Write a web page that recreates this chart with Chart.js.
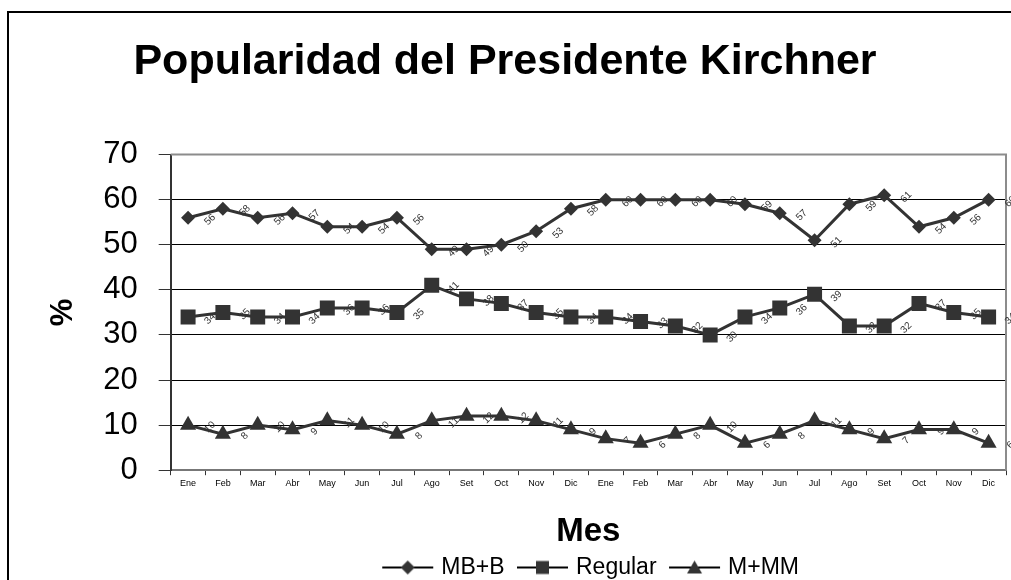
<!DOCTYPE html>
<html>
<head>
<meta charset="utf-8">
<script src="https://cdn.jsdelivr.net/npm/chart.js@4.4.1/dist/chart.umd.min.js"></script>
<style>
  html, body { margin: 0; padding: 0; background: #fff; overflow: hidden; }
  #wrap { width: 1011px; height: 580px; position: relative; }
</style>
</head>
<body>
<div id="wrap"><canvas id="popChart"></canvas></div>
<script>
const months = ['Ene', 'Feb', 'Mar', 'Abr', 'May', 'Jun', 'Jul', 'Ago', 'Set', 'Oct', 'Nov', 'Dic',
                'Ene', 'Feb', 'Mar', 'Abr', 'May', 'Jun', 'Jul', 'Ago', 'Set', 'Oct', 'Nov', 'Dic'];
const mbB     = [56, 58, 56, 57, 54, 54, 56, 49, 49, 50, 53, 58, 60, 60, 60, 60, 59, 57, 51, 59, 61, 54, 56, 60];
const regular = [34, 35, 34, 34, 36, 36, 35, 41, 38, 37, 35, 34, 34, 33, 32, 30, 34, 36, 39, 32, 32, 37, 35, 34];
const mMM     = [10, 8, 10, 9, 11, 10, 8, 11, 12, 12, 11, 9, 7, 6, 8, 10, 6, 8, 11, 9, 7, 9, 9, 6];
const seriesNames = ['MB+B', 'Regular', 'M+MM'];
const yMin = 0, yMax = 70, yStep = 10;

const FONT = '"Liberation Sans", Arial, sans-serif';
const DARK = '#333';

// legend icons: line with the marker in the middle
function legendIcon(shape) {
  const c = document.createElement('canvas');
  c.width = 63; c.height = 24;
  const g = c.getContext('2d');
  const x0 = 10, x1 = 61, cx = 35.5, cy = 12;
  g.strokeStyle = '#000';
  g.lineWidth = 2;
  g.beginPath(); g.moveTo(x0, cy); g.lineTo(x1, cy); g.stroke();
  g.fillStyle = DARK;
  g.beginPath();
  if (shape === 'diamond') {
    g.moveTo(cx - 7, cy); g.lineTo(cx, cy - 7); g.lineTo(cx + 7, cy); g.lineTo(cx, cy + 7);
  } else if (shape === 'square') {
    g.rect(cx - 6.5, cy - 6.5, 13, 13);
  } else {
    g.moveTo(cx, cy - 7); g.lineTo(cx + 7.5, cy + 6); g.lineTo(cx - 7.5, cy + 6);
  }
  g.closePath();
  g.fill();
  return c;
}
const legendIcons = [legendIcon('diamond'), legendIcon('square'), legendIcon('triangle')];

// outer frame + grey plot border
const frame = {
  id: 'frame',
  beforeDraw(chart) {
    const ctx = chart.ctx;
    ctx.save();
    ctx.fillStyle = '#fff';
    ctx.fillRect(0, 0, chart.width, chart.height);
    ctx.strokeStyle = '#000';
    ctx.lineWidth = 2;
    ctx.strokeRect(8, 12, 1200, 800);
    ctx.restore();
  },
  beforeDatasetsDraw(chart) {
    const {ctx, chartArea: a} = chart;
    ctx.save();
    ctx.strokeStyle = '#8c8c8c';
    ctx.lineWidth = 2;
    ctx.beginPath();
    ctx.moveTo(a.left, a.top);
    ctx.lineTo(a.right, a.top);
    ctx.lineTo(a.right, a.bottom);
    ctx.stroke();
    ctx.restore();
  }
};

// rotated value labels next to each point
const pointLabels = {
  id: 'pointLabels',
  afterDatasetsDraw(chart) {
    const ctx = chart.ctx;
    ctx.save();
    ctx.font = '10px ' + FONT;
    ctx.fillStyle = DARK;
    ctx.textAlign = 'center';
    ctx.textBaseline = 'middle';
    chart.data.datasets.forEach((ds, i) => {
      chart.getDatasetMeta(i).data.forEach((pt, j) => {
        ctx.save();
        ctx.translate(pt.x + 22, pt.y + 2);
        ctx.rotate(-Math.PI / 4);
        ctx.fillText(String(ds.data[j]), 0, 0);
        ctx.restore();
      });
    });
    ctx.restore();
  }
};

const series = [mbB, regular, mMM];
const styles = [
  {pointStyle: 'rectRot', pointRadius: 7},
  {pointStyle: 'rect', pointRadius: 10.6},
  {pointStyle: 'triangle', pointRadius: 9.3}
];

new Chart(document.getElementById('popChart'), {
  type: 'line',
  data: {
    labels: months,
    datasets: series.map((d, i) => ({
      label: seriesNames[i],
      data: d,
      borderColor: DARK,
      backgroundColor: DARK,
      borderWidth: 3,
      pointBackgroundColor: DARK,
      pointBorderWidth: 0,
      pointStyle: styles[i].pointStyle,
      pointRadius: styles[i].pointRadius,
      tension: 0,
      fill: false
    }))
  },
  options: {
    responsive: true,
    maintainAspectRatio: false,
    animation: false,
    layout: { autoPadding: false, padding: { left: 4, right: 5, top: 0, bottom: -9 } },
    plugins: {
      title: {
        display: true,
        text: 'Popularidad del Presidente Kirchner',
        color: '#000',
        font: { family: FONT, size: 43, weight: 'bold' },
        padding: { top: 36, bottom: 67 }
      },
      legend: {
        position: 'bottom',
        fullSize: false,
        labels: {
          usePointStyle: true,
          pointStyleWidth: 52,
          padding: 8,
          color: '#000',
          font: { family: FONT, size: 23 },
          generateLabels(chart) {
            const items = Chart.defaults.plugins.legend.labels.generateLabels(chart);
            items.forEach((it, i) => { it.pointStyle = legendIcons[i]; });
            return items;
          }
        }
      },
      tooltip: { enabled: false }
    },
    scales: {
      x: {
        offset: true,
        grid: {
          offset: true,
          drawOnChartArea: false,
          drawTicks: true,
          tickLength: 5,
          tickColor: DARK
        },
        border: { color: '#777', width: 2 },
        ticks: {
          color: '#000',
          padding: 3,
          maxRotation: 0,
          autoSkip: false,
          font: { family: FONT, size: 9 }
        },
        title: {
          display: true,
          text: 'Mes',
          color: '#000',
          font: { family: FONT, size: 33, weight: 'bold', lineHeight: 1 },
          padding: { top: 23, bottom: 0 }
        }
      },
      y: {
        min: yMin,
        max: yMax,
        grid: {
          color: (c) => (c.tick && c.tick.value === yMax ? '#8c8c8c' : '#000'),
          lineWidth: 1,
          tickLength: 12,
          tickColor: DARK
        },
        border: { color: DARK, width: 2 },
        ticks: {
          stepSize: yStep,
          color: '#000',
          padding: 21,
          font: { family: FONT, size: 31 }
        },
        title: {
          display: true,
          text: '%',
          color: '#000',
          font: { family: FONT, size: 31, weight: 'bold' },
          padding: { top: 41, bottom: 0 }
        }
      }
    }
  },
  plugins: [frame, pointLabels]
});
</script>
</body>
</html>
